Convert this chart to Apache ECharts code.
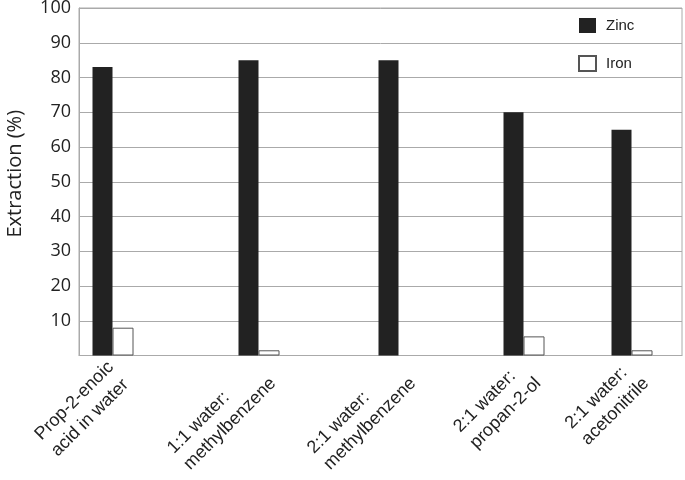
<!DOCTYPE html>
<html>
<head>
<meta charset="utf-8">
<script src="https://cdn.jsdelivr.net/npm/echarts@6/dist/echarts.min.js"></script>
<style>html,body{margin:0;padding:0;background:#fff}#c{width:685px;height:480px}</style>
</head>
<body>
<div id="c"></div>
<script>
// Data
var categories = ['Prop-2-enoic\nacid in water', '1:1 water:\nmethylbenzene', '2:1 water:\nmethylbenzene', '2:1 water:\npropan-2-ol', '2:1 water:\nacetonitrile'];
var categoryPos = [0.34, 1.80, 3.20, 4.45, 5.53];   // irregular spacing of the groups along the axis
var zinc = [83, 85, 85, 70, 65];
var iron = [8, 1.5, 0, 5.5, 1.5];
var yTicks = [10, 20, 30, 40, 50, 60, 70, 80, 90, 100];

var labelShift = 0.06;
var labelVals = categoryPos.map(function (p) { return +(p + labelShift).toFixed(3); });

var chart = echarts.init(document.getElementById('c'));
chart.setOption({
  animation: false,
  backgroundColor: '#fff',
  grid: { left: 79, right: 3, top: 8, bottom: 124.5, show: true, borderColor: '#aaa', borderWidth: 1, outerBoundsMode: 'none', containLabel: false },
  legend: {
    orient: 'vertical', left: 578, top: 18, padding: 0,
    itemWidth: 17, itemHeight: 15, itemGap: 22, icon: 'rect',
    textStyle: { fontFamily: 'Liberation Sans', fontSize: 15, color: '#222', padding: [0, 0, 0, 5] },
    data: ['Zinc', 'Iron']
  },
  xAxis: {
    type: 'value', min: 0, max: 6.03,
    splitLine: { show: false },
    axisTick: { show: false },
    axisLine: { show: true, lineStyle: { color: '#aaa', width: 1 } },
    axisLabel: {
      customValues: labelVals,
      rotate: 45, margin: 17,
      formatter: function (v) {
        var i = labelVals.indexOf(+(+v).toFixed(3));
        if (i < 0) return '';
        return categories[i].split('\n').map(function (s) { return '{a|' + s + '}'; }).join('\n');
      },
      rich: { a: { align: 'left', fontFamily: 'Liberation Sans', fontSize: 18, color: '#222', lineHeight: 23 } }
    }
  },
  yAxis: {
    type: 'value', min: 0, max: 100, interval: 10,
    name: 'Extraction (%)', nameLocation: 'middle', nameGap: 54, nameRotate: 90,
    nameTextStyle: { fontFamily: 'Open Sans', fontSize: 20, color: '#222', padding: [0, 0, 0, 16] },
    axisLine: { show: true, lineStyle: { color: '#aaa' } },
    axisTick: { show: false },
    splitLine: { show: true, lineStyle: { color: '#aaa', width: 1 } },
    axisLabel: {
      margin: 8, fontFamily: 'Open Sans', fontSize: 18, color: '#222',
      formatter: function (v) { return yTicks.indexOf(v) >= 0 ? String(v) : ''; }
    }
  },
  series: [
    {
      name: 'Zinc', type: 'bar', barWidth: 20, barGap: '0%',
      itemStyle: { color: '#222' },
      data: categoryPos.map(function (p, i) { return [p, zinc[i]]; })
    },
    {
      name: 'Iron', type: 'bar', barWidth: 21, barGap: '0%',
      itemStyle: { color: '#fff', borderColor: '#555', borderWidth: 1 },
      data: categoryPos.map(function (p, i) {
        return iron[i] === 0 ? { value: [p, iron[i]], itemStyle: { borderWidth: 0 } } : [p, iron[i]];
      })
    }
  ]
});
</script>
</body>
</html>
